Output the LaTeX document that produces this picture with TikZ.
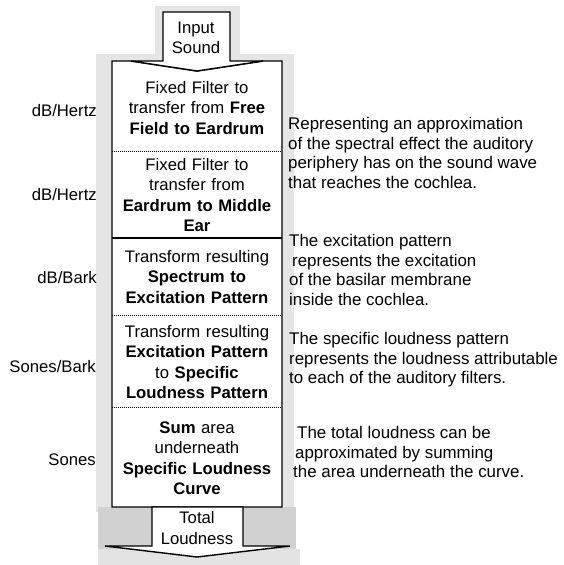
\documentclass[tikz,border=0pt]{standalone}
\usepackage{fontspec}
\setmainfont{Liberation Sans}
\usepackage{tikz}

\begin{document}
\begin{tikzpicture}[x=1pt,y=-1pt]

		\tikzstyle{frame}=[draw, line width=1.4pt, fill=white, line join=miter]
		\tikzstyle{halo}=[fill=gray!20]
		\tikzstyle{stage}=[text width=166pt, align=center, inner sep=0pt, font=\fontsize{16.7}{20.5}\selectfont]
		\tikzstyle{port}=[align=center, inner sep=0pt, font=\fontsize{16.7}{20.5}\selectfont]
		\tikzstyle{unit}=[anchor=east, inner sep=0pt, font=\fontsize{16.7}{20}\selectfont]
		\tikzstyle{remark}=[anchor=west, align=left, inner sep=0pt, font=\fontsize{16.9}{19.5}\selectfont]
		\tikzstyle{sep}=[line width=1pt, densely dotted]

		\useasboundingbox (0,0) rectangle (564,565);

		% stippled shadow
		\fill[halo] (96,54) rectangle (294,512);
		\fill[halo] (155,6) rectangle (240,58);
		\fill[gray!36] (98,507) rectangle (296,549);
		\fill[gray!22] (98,549) rectangle (300,565);

		\draw[frame] (112,61) -- (131,61) -- (197,71) -- (263,61) -- (282,61) -- (282,507) -- (112,507) -- cycle;
		\draw[frame] (163,12) -- (230,12) -- (230,61) -- (263,61) -- (197,71) -- (131,61) -- (163,61) -- cycle;
		\draw[frame] (152,507) -- (243,507) -- (243,546) -- (290,546) -- (197,557) -- (105,546) -- (152,546) -- cycle;

		\draw[sep] (112,151) -- (282,151);
		\draw[line width=1.2pt] (112,238) -- (282,238);
		\draw[sep] (112,315) -- (282,315);
		\draw[sep] (112,407) -- (282,407);

		\node[port] (in) at (196,38) {Input\\Sound};

		\node[stage] (s1) at (197,108) {Fixed Filter to\\transfer from \textbf{Free}\\\textbf{Field to Eardrum}};
		\node[stage] (s2) at (197,195) {Fixed Filter to\\transfer from\\\textbf{Eardrum to Middle}\\\textbf{Ear}};
		\node[stage] (s3) at (197,277) {Transform resulting\\\textbf{Spectrum to}\\\textbf{Excitation Pattern}};
		\node[stage] (s4) at (197,362) {Transform resulting\\\textbf{Excitation Pattern}\\to \textbf{Specific}\\\textbf{Loudness Pattern}};
		\node[stage] (s5) at (197,458) {\textbf{Sum} area\\underneath\\\textbf{Specific Loudness}\\\textbf{Curve}};

		\node[port] (out) at (197,528) {Total\\Loudness};

		\node[unit] (u1) at (97,111) {dB/Hertz};
		\node[unit] (u2) at (97,195) {dB/Hertz};
		\node[unit] (u3) at (97,278) {dB/Bark};
		\node[unit] (u4) at (96,367) {Sones/Bark};
		\node[unit] (u5) at (96,460) {Sones};

		\node[remark] (r1) at (288,153) {Representing an approximation\\of the spectral effect the auditory\\periphery has on the sound wave\\that reaches the cochlea.};
		\node[remark] (r2) at (289,270) {The excitation pattern\\\hspace{3pt}represents the excitation\\of the basilar membrane\\inside the cochlea.};
		\node[remark] (r3) at (289,360) {The specific loudness pattern\\represents the loudness attributable\\to each of the auditory filters.};
		\node[remark] (r4) at (293,452) {\hspace{4pt}The total loudness can be\\\hspace{2pt}approximated by summing\\the area underneath the curve.};

	\end{tikzpicture}
\end{document}
